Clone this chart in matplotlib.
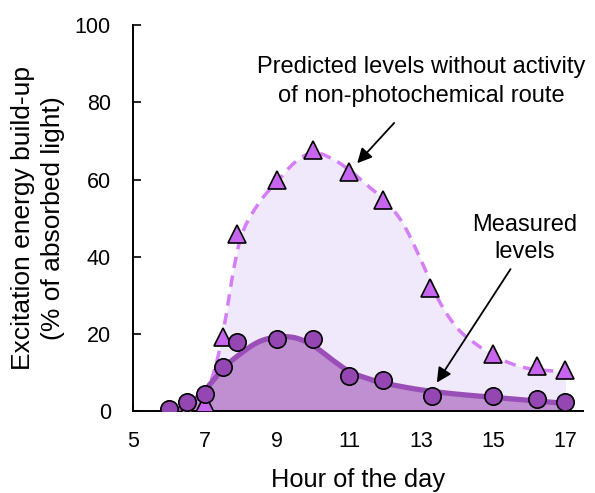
import numpy as np
import matplotlib
matplotlib.use("Agg")
import matplotlib.pyplot as plt

plt.rcParams['font.family'] = ['Liberation Sans', 'DejaVu Sans']

# Markers
pred_hours = [6.0, 6.5, 7.0, 7.5, 7.9, 9.0, 10.0, 11.0, 11.95, 13.25, 15.0, 16.2, 17.0]
pred_vals = [0.0, 0.3, 2.0, 19.2, 46.0, 60.0, 67.6, 62.0, 54.6, 32.0, 14.7, 11.6, 10.6]
meas_hours = [6.0, 6.5, 7.0, 7.5, 7.9, 9.0, 10.0, 11.0, 11.95, 13.3, 15.0, 16.2, 17.0]
meas_vals = [0.5, 2.5, 4.5, 11.5, 18.0, 18.6, 18.6, 9.0, 8.0, 4.0, 4.0, 3.2, 2.5]

# Smooth fitted curves
pc_hours = [6.0, 6.5, 7.0, 7.3, 7.55, 7.8, 8.05, 8.5, 9.0, 9.5, 10.0, 10.5, 11.0, 11.5,
            12.0, 12.5, 13.0, 13.5, 14.0, 14.5, 15.0, 15.5, 16.0, 16.5, 17.0]
pc_vals = [0.0, 0.5, 4.5, 12.0, 23.0, 37.0, 46.5, 54.0, 59.5, 64.5, 67.0, 65.5, 62.5, 58.5,
           54.5, 48.5, 39.0, 28.5, 21.5, 17.5, 14.5, 12.3, 11.0, 10.5, 10.3]
mc_hours = [6.0, 6.5, 7.0, 7.5, 8.0, 8.5, 9.0, 9.5, 10.0, 10.5, 11.0, 11.5, 12.0, 13.0,
            14.0, 15.0, 16.0, 17.0]
mc_vals = [0.0, 1.5, 5.5, 11.0, 15.0, 18.0, 19.2, 19.0, 17.0, 13.5, 10.3, 8.5, 7.2, 5.5,
           4.4, 3.6, 2.8, 2.0]

xticks = [5, 7, 9, 11, 13, 15, 17]
yticks = [0, 20, 40, 60, 80, 100]


def smooth(xs, ys, n=20):
    xs = np.asarray(xs, float); ys = np.asarray(ys, float)
    px = np.concatenate([[2 * xs[0] - xs[1]], xs, [2 * xs[-1] - xs[-2]]])
    py = np.concatenate([[2 * ys[0] - ys[1]], ys, [2 * ys[-1] - ys[-2]]])
    ox, oy = [], []
    for i in range(1, len(px) - 2):
        t = np.linspace(0, 1, n, endpoint=False)
        for arr, out in ((px, ox), (py, oy)):
            p0, p1, p2, p3 = arr[i - 1], arr[i], arr[i + 1], arr[i + 2]
            out.extend(0.5 * ((2 * p1) + (-p0 + p2) * t + (2 * p0 - 5 * p1 + 4 * p2 - p3) * t ** 2
                              + (-p0 + 3 * p1 - 3 * p2 + p3) * t ** 3))
    ox.append(xs[-1]); oy.append(ys[-1])
    return np.array(ox), np.clip(np.array(oy), 0, None)


fig = plt.figure(figsize=(5.95, 4.93), dpi=100)
ax = fig.add_axes([0.2235, 0.166, 0.757, 0.783])

px_, py_ = smooth(pc_hours, pc_vals)
mx_, my_ = smooth(mc_hours, mc_vals)

ax.fill_between(px_, 0, py_, color='#efe9fb', lw=0, zorder=1)
ax.fill_between(mx_, 0, my_, color='#bf8fd2', lw=0, zorder=2)
ax.plot(px_, py_, color='#d57ef7', lw=2.5, ls=(0, (3.3, 2.2)), zorder=3)
ax.plot(mx_, my_, color='#9a4fb8', lw=3.8, zorder=4)

ax.plot(pred_hours, pred_vals, ls='none', marker='^', ms=12.5, mfc='#c865ee', mec='black',
        mew=1.2, zorder=5)
ax.plot(meas_hours, meas_vals, ls='none', marker='o', ms=12.5, mfc='#9446b2', mec='black',
        mew=1.2, zorder=6)

ax.set_xlim(5, 17.5)
ax.set_ylim(0, 100)
ax.set_xticks(xticks)
ax.set_yticks(yticks)
ax.tick_params(direction='in', length=6, width=1.2, labelsize=15.5)
ax.tick_params(axis='x', pad=14.5)
ax.tick_params(axis='y', pad=16)
for s in ['top', 'right']:
    ax.spines[s].set_visible(False)
for s in ['left', 'bottom']:
    ax.spines[s].set_linewidth(1.4)

ax.set_xlabel('Hour of the day', fontsize=18.3, labelpad=11)
ax.set_ylabel('Excitation energy build-up\n(% of absorbed light)', fontsize=19,
              labelpad=7, linespacing=1.3)

ax.text(13.0, 85.3, 'Predicted levels without activity\nof non-photochemical route',
        ha='center', va='center', fontsize=17, linespacing=1.4)
ax.annotate('', xy=(11.17, 63.7), xytext=(12.3, 75.2),
            arrowprops=dict(arrowstyle='-|>', color='black', lw=1.3, mutation_scale=22))
ax.text(15.86, 44.8, 'Measured\nlevels', ha='center', va='center', fontsize=17, linespacing=1.3)
ax.annotate('', xy=(13.39, 6.8), xytext=(15.52, 37.4),
            arrowprops=dict(arrowstyle='-|>', color='black', lw=1.3, mutation_scale=22))

fig.savefig('out.png', dpi=100)
